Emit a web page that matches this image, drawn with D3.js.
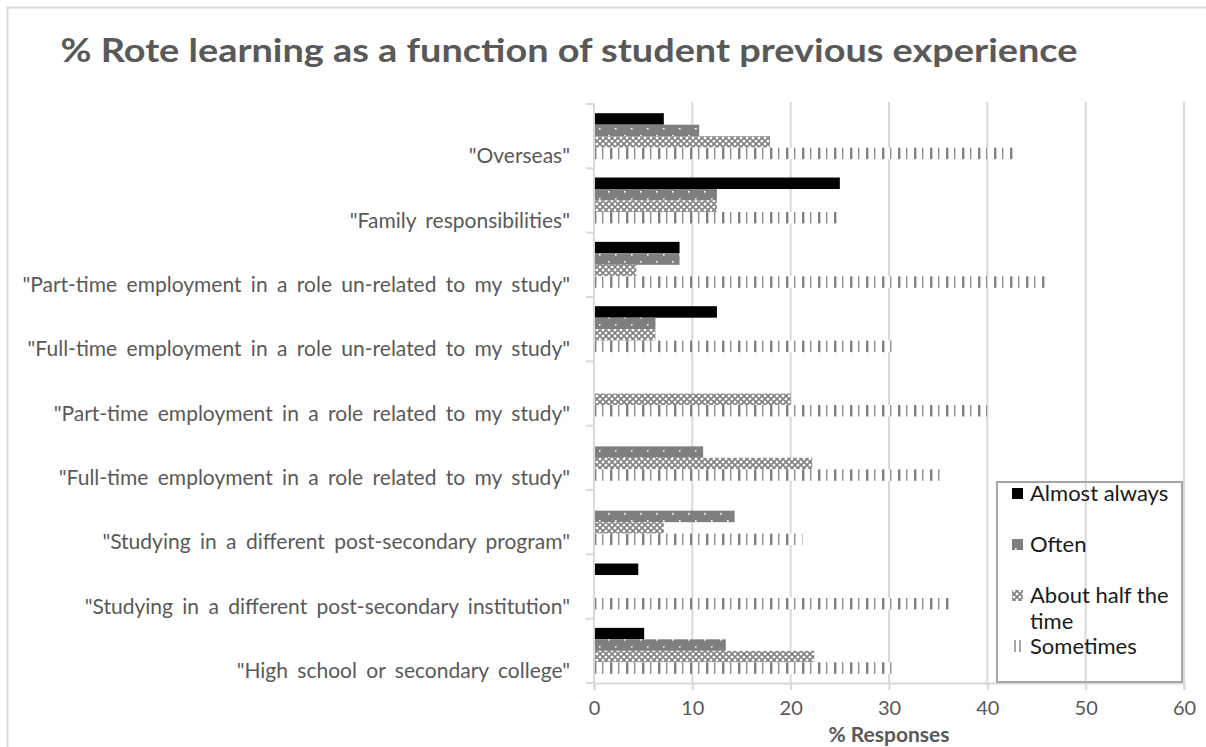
<!DOCTYPE html>
<html lang="en">
<head>
    <meta charset="UTF-8" />
    <title>% Rote learning as a function of student previous experience</title>
    <script src="https://d3js.org/d3.v7.min.js"></script>
    <style>
        body { margin: 0; background: #fff; }
        text { font-family: Lato, "Open Sans", sans-serif; }
    </style>
</head>
<body>
    <script>
        // categories top to bottom
        var categories = [
            "\"Overseas\"",
            "\"Family responsibilities\"",
            "\"Part-time employment in a role un-related to my study\"",
            "\"Full-time employment in a role un-related to my study\"",
            "\"Part-time employment in a role related to my study\"",
            "\"Full-time employment in a role related to my study\"",
            "\"Studying in a different post-secondary program\"",
            "\"Studying in a different post-secondary institution\"",
            "\"High school or secondary college\""
        ];
        var seriesNames = ["Almost always", "Often", "About half the time", "Sometimes"];
        var almostAlways = [7.1, 25, 8.7, 12.5, 0, 0, 0, 4.5, 5.1];
        var often = [10.7, 12.5, 8.7, 6.25, 0, 11.1, 14.3, 0, 13.4];
        var aboutHalf = [17.9, 12.5, 4.3, 6.25, 20, 22.2, 7.1, 0, 22.4];
        var sometimes = [43.1, 25, 46, 30.8, 40, 35.8, 21.2, 36.4, 30.7];
        var xTicks = [0, 10, 20, 30, 40, 50, 60];

        var w = 1206;
        var h = 747;
        var plotLeft = 594, plotRight = 1184, plotTop = 104, plotBottom = 683;
        var grey = "#595959";
        var lineGrey = "#d9d9d9";

        var seriesValues = [almostAlways, often, aboutHalf, sometimes];
        var rows = [];
        categories.forEach(function (c, i) {
            seriesNames.forEach(function (s, j) {
                rows.push({ cat: c, series: s, value: seriesValues[j][i] });
            });
        });

        var svg = d3.select("body").append("svg")
            .attr("width", w)
            .attr("height", h);

        // fill patterns
        var defs = svg.append("defs");
        var pOften = defs.append("pattern").attr("id", "p-often")
            .attr("patternUnits", "userSpaceOnUse").attr("width", 16).attr("height", 14);
        pOften.append("rect").attr("width", 16).attr("height", 14).attr("fill", "#7f7f7f");
        pOften.append("rect").attr("x", 7).attr("y", 2).attr("width", 1.6).attr("height", 1.6).attr("fill", "#fff");
        pOften.append("rect").attr("x", 0).attr("y", 9).attr("width", 1.6).attr("height", 1.6).attr("fill", "#fff");

        var pHalf = defs.append("pattern").attr("id", "p-half")
            .attr("patternUnits", "userSpaceOnUse").attr("width", 6).attr("height", 6);
        pHalf.append("rect").attr("width", 6).attr("height", 6).attr("fill", "#fff");
        pHalf.append("path").attr("d", "M0,0L6,6M6,0L0,6M-3,3L3,-3M3,9L9,3M-3,3L3,9M3,-3L9,3")
            .attr("stroke", "#808080").attr("stroke-width", 1.6);

        var pSome = defs.append("pattern").attr("id", "p-some")
            .attr("patternUnits", "userSpaceOnUse").attr("width", 16).attr("height", 12);
        pSome.append("rect").attr("width", 16).attr("height", 12).attr("fill", "#fff");
        pSome.append("rect").attr("x", 2).attr("width", 2.4).attr("height", 12).attr("fill", "#808080");
        pSome.append("rect").attr("x", 10).attr("width", 1.4).attr("height", 12).attr("fill", "#8c8c8c");

        var fills = {
            "Almost always": "#000",
            "Often": "url(#p-often)",
            "About half the time": "url(#p-half)",
            "Sometimes": "url(#p-some)"
        };

        // chart frame
        svg.append("rect")
            .attr("x", 7.5).attr("y", 7.5)
            .attr("width", 1400).attr("height", 1000)
            .attr("fill", "none").attr("stroke", lineGrey).attr("stroke-width", 2);

        var x = d3.scaleLinear().domain([0, 60]).range([plotLeft, plotRight]);
        var y = d3.scaleBand().domain(categories).range([plotTop, plotBottom])
            .paddingInner(0.286).paddingOuter(0.143);
        var ySub = d3.scaleBand().domain(seriesNames).range([0, y.bandwidth()]);

        // gridlines
        svg.append("g").selectAll("line")
            .data(xTicks.slice(1))
            .enter().append("line")
            .attr("x1", function (d) { return x(d); })
            .attr("x2", function (d) { return x(d); })
            .attr("y1", plotTop - 2).attr("y2", plotBottom)
            .attr("stroke", lineGrey).attr("stroke-width", 2);

        // bars
        svg.append("g").selectAll("rect")
            .data(rows.filter(function (d) { return d.value > 0; }))
            .enter().append("rect")
            .attr("x", x(0) + 1)
            .attr("y", function (d) { return y(d.cat) + ySub(d.series); })
            .attr("width", function (d) { return x(d.value) - x(0) - 1; })
            .attr("height", ySub.bandwidth())
            .attr("fill", function (d) { return fills[d.series]; });

        // y axis line + ticks at category boundaries
        var step = y.step();
        svg.append("line")
            .attr("x1", plotLeft).attr("x2", plotLeft)
            .attr("y1", plotTop).attr("y2", plotBottom)
            .attr("stroke", lineGrey).attr("stroke-width", 2);
        var bounds = categories.map(function (c) { return y(c) - step * 0.143; });
        bounds.push(plotBottom);
        svg.append("g").selectAll("line")
            .data(bounds)
            .enter().append("line")
            .attr("x1", plotLeft - 8).attr("x2", plotLeft)
            .attr("y1", function (d) { return d; })
            .attr("y2", function (d) { return d; })
            .attr("stroke", lineGrey).attr("stroke-width", 2);

        // category labels
        svg.append("g").selectAll("text")
            .data(categories)
            .enter().append("text")
            .attr("x", 570)
            .attr("y", function (d) { return y(d) + y.bandwidth() - 3; })
            .attr("dy", "0.35em")
            .attr("text-anchor", "end")
            .attr("fill", grey)
            .attr("font-size", "21px")
            .attr("word-spacing", "4px")
            .text(function (d) { return d; });

        // x axis
        var xAxis = svg.append("g")
            .attr("transform", "translate(0," + plotBottom + ")")
            .call(d3.axisBottom(x).tickValues(xTicks).tickSize(7).tickPadding(11));
        xAxis.select(".domain").attr("stroke", lineGrey).attr("stroke-width", 2);
        xAxis.selectAll(".tick line").attr("stroke", lineGrey).attr("stroke-width", 2);
        xAxis.selectAll(".tick text")
            .attr("fill", grey)
            .attr("font-size", "20px")
            .attr("font-family", "Lato, sans-serif");

        svg.append("text")
            .attr("x", 889).attr("y", 742)
            .attr("text-anchor", "middle")
            .attr("fill", grey)
            .attr("font-size", "21px")
            .attr("font-weight", "bold")
            .text("% Responses");

        // title
        svg.append("text")
            .attr("x", 569).attr("y", 62)
            .attr("text-anchor", "middle")
            .attr("fill", grey)
            .attr("font-size", "32px")
            .attr("font-weight", "bold")
            .attr("textLength", 1017)
            .attr("lengthAdjust", "spacingAndGlyphs")
            .text("% Rote learning as a function of student previous experience");

        // legend (transparent, gridline shows through)
        var legend = svg.append("g");
        legend.append("rect")
            .attr("x", 997).attr("y", 482)
            .attr("width", 185).attr("height", 200)
            .attr("fill", "none").attr("stroke", "#a6a6a6").attr("stroke-width", 2);
        var legendRows = [
            { name: seriesNames[0], y: 493, lines: ["Almost always"] },
            { name: seriesNames[1], y: 544, lines: ["Often"] },
            { name: seriesNames[2], y: 595, lines: ["About half the", "time"] },
            { name: seriesNames[3], y: 646, lines: ["Sometimes"] }
        ];
        var item = legend.selectAll("g.item")
            .data(legendRows)
            .enter().append("g").attr("class", "item");
        item.append("rect")
            .attr("x", 1012).attr("y", function (d) { return d.y - 5; })
            .attr("width", 11).attr("height", 11)
            .attr("fill", function (d) {
                return d.name === "Sometimes" ? "none" : fills[d.name];
            });
        item.filter(function (d) { return d.name === "Sometimes"; })
            .selectAll("line").data([1015, 1020]).enter().append("line")
            .attr("x1", function (d) { return d; }).attr("x2", function (d) { return d; })
            .attr("y1", 640).attr("y2", 652)
            .attr("stroke", "#808080").attr("stroke-width", 1.4);
        item.selectAll("text")
            .data(function (d) { return d.lines.map(function (t, i) { return { t: t, y: d.y + i * 26 }; }); })
            .enter().append("text")
            .attr("x", 1030).attr("y", function (d) { return d.y; })
            .attr("dy", "0.35em")
            .attr("fill", "#1a1a1a")
            .attr("font-size", "22px")
            .text(function (d) { return d.t; });
    </script>
</body>
</html>
